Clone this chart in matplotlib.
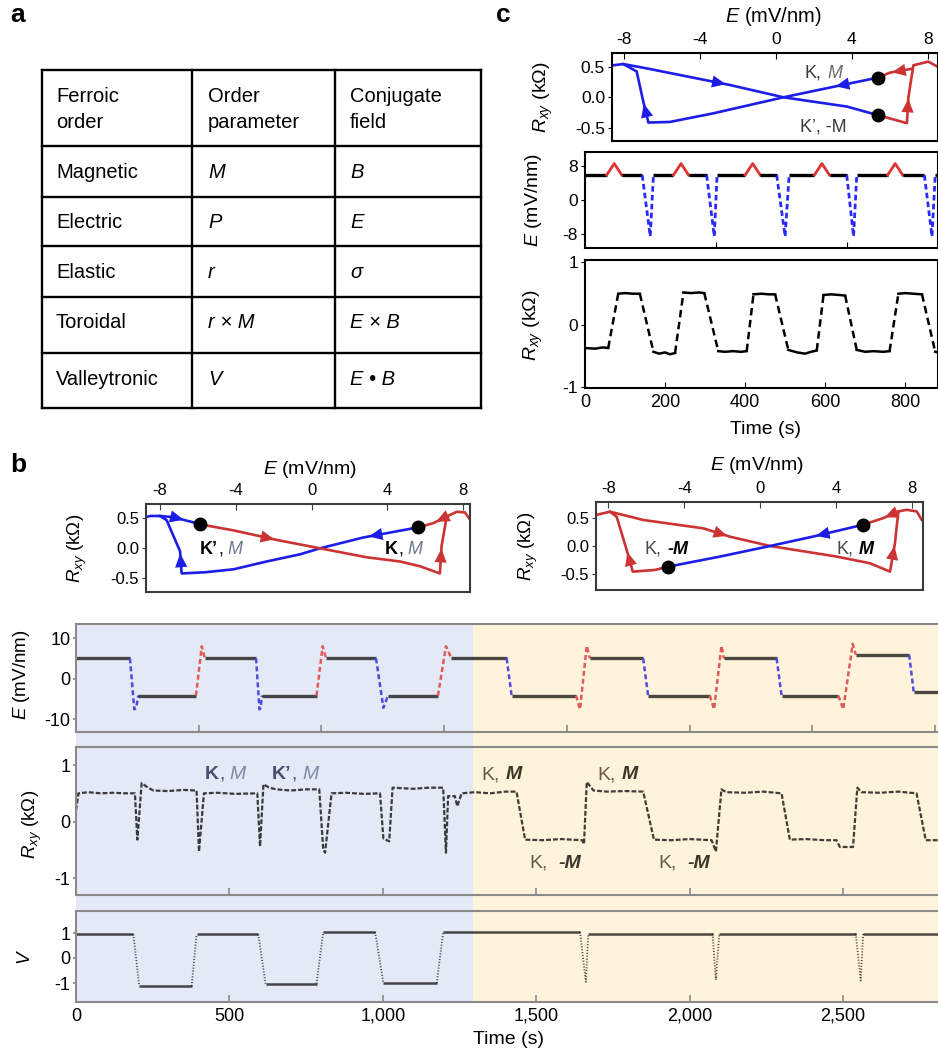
import matplotlib
matplotlib.use("Agg")
import matplotlib.pyplot as plt
import matplotlib.transforms as mtransforms
from matplotlib.patches import Rectangle
from matplotlib.ticker import FuncFormatter, FormatStrFormatter

plt.rcParams.update({
    'font.family': ['Liberation Sans', 'DejaVu Sans'],
    'mathtext.fontset': 'custom',
    'mathtext.rm': 'Liberation Sans',
    'mathtext.it': 'Liberation Sans:italic',
    'mathtext.bf': 'Liberation Sans:bold',
    'axes.unicode_minus': False,
})

# ======================= DATA =======================
# panel a table
table_header = [["Ferroic", "order"], ["Order", "parameter"], ["Conjugate", "field"]]
table_order = ["Magnetic", "Electric", "Elastic", "Toroidal", "Valleytronic"]
table_param = ["M", "P", "r", "r × M", "V"]
table_field = ["B", "E", "σ", "E × B", "E • B"]

# panel b, left hysteresis (E in mV/nm, Rxy in kOhm)
b1_blue_E = [5.64, 2.73, 0.45, -0.6, -2.37, -4.1, -5.6, -6.86, -6.94, -7.65, -8.0, -8.53, -8.74]
b1_blue_R = [0.35, 0.18, 0.0, -0.1, -0.22, -0.35, -0.40, -0.42, -0.05, 0.47, 0.54, 0.54, 0.52]
b1_blue2_E = [-8.0, -7.3, -6.2, -5.89]
b1_blue2_R = [0.54, 0.52, 0.43, 0.40]
b1_red_E = [-5.89, -4.13, -1.84, 0.45, 2.91, 4.67, 5.73, 6.78, 6.87, 7.14, 7.67, 8.1, 8.37]
b1_red_R = [0.40, 0.30, 0.14, 0.0, -0.15, -0.22, -0.30, -0.42, 0.04, 0.53, 0.61, 0.60, 0.48]
b1_red2_E = [7.14, 6.43, 5.64]
b1_red2_R = [0.53, 0.42, 0.35]
b1_dot_E = [-5.89, 5.64]
b1_dot_R = [0.40, 0.35]

# panel b, right hysteresis
b2_red_top_E = [-8.65, -7.91, -6.15, -2.99, -1.58, 0.53, 4.05, 5.8, 6.86, 7.12, 7.3, 7.74, 8.27, 8.53]
b2_red_top_R = [0.556, 0.616, 0.467, 0.317, 0.167, 0.0, -0.19, -0.31, -0.46, 0.05, 0.62, 0.65, 0.62, 0.47]
b2_red_left_E = [-4.83, -5.54, -6.71, -7.03, -7.56, -7.91]
b2_red_left_R = [-0.37, -0.43, -0.46, -0.072, 0.526, 0.616]
b2_red_right_E = [7.3, 6.5, 5.42]
b2_red_right_R = [0.62, 0.50, 0.38]
b2_blue_E = [5.42, 2.81, 0.53, -2.11, -4.83]
b2_blue_R = [0.38, 0.17, 0.0, -0.19, -0.37]
b2_dot_E = [-4.83, 5.42]
b2_dot_R = [-0.37, 0.38]

# panel c hysteresis
c_blue_main_E = [5.37, 3.02, 0.39, -3.3, -5.59, -6.73, -7.0, -7.35, -8.05, -8.61]
c_blue_main_R = [0.32, 0.17, 0.0, -0.26, -0.40, -0.41, -0.07, 0.42, 0.54, 0.52]
c_blue_top_E = [-8.05, -6.82, -2.43, 0.39, 3.73, 5.37]
c_blue_top_R = [0.54, 0.47, 0.2, 0.0, -0.15, -0.29]
c_red_E = [5.37, 6.9, 6.98, 7.24, 8.03, 8.5]
c_red_R = [-0.29, -0.42, 0.0, 0.52, 0.58, 0.5]
c_red2_E = [7.1, 6.0, 5.37]
c_red2_R = [0.46, 0.40, 0.32]
c_dot_E = [5.37, 5.37]
c_dot_R = [0.32, -0.29]

# panel b time traces
b_E_t = [0, 176, 190, 196, 203, 391, 410, 420, 587, 598, 602, 606, 784, 804, 815,
         978, 1002, 1017, 1180, 1206, 1224, 1404, 1420, 1630, 1643, 1665, 1675,
         1849, 1865, 2066, 2080, 2104, 2112, 2284, 2300, 2485, 2501, 2532, 2542,
         2716, 2731, 2810]
b_E_v = [5, 5, -7.6, -7.3, -4.2, -4.2, 8.0, 5, 5, -7.6, -7.3, -4.2, -4.2, 8.0, 5,
         5, -7.2, -4.2, -4.2, 8.0, 5, 5, -4.2, -4.2, -7.6, 8.1, 5,
         5, -4.2, -4.2, -7.6, 8.1, 5, 5, -4.2, -4.2, -7.6, 8.6, 5.9,
         5.9, -3.4, -3.4]

b_R_t = [0, 8, 40, 80, 120, 160, 192, 200, 214, 235, 252, 300, 350, 393, 401, 417, 460,
         520, 591, 600, 611, 630, 653, 700, 750, 793, 806, 812, 833, 880, 940, 991, 1002,
         1021, 1032, 1100, 1150, 1197, 1206, 1213, 1235, 1243, 1257, 1300, 1350, 1400,
         1436, 1464, 1520, 1580, 1650, 1656, 1665, 1687, 1730, 1790, 1849, 1884, 1940,
         2000, 2072, 2086, 2104, 2120, 2180, 2240, 2300, 2327, 2380, 2440, 2479, 2490,
         2533, 2547, 2560, 2620, 2680, 2740, 2770, 2810]
b_R_v = [0.2, 0.5, 0.52, 0.5, 0.51, 0.5, 0.5, -0.32, 0.68, 0.6, 0.55, 0.54, 0.56, 0.55,
         -0.53, 0.5, 0.51, 0.49, 0.5, -0.44, 0.66, 0.6, 0.57, 0.55, 0.57, 0.57, -0.5,
         -0.55, 0.5, 0.51, 0.49, 0.5, -0.3, -0.35, 0.6, 0.58, 0.6, 0.6, -0.55, 0.45,
         0.45, 0.27, 0.5, 0.52, 0.5, 0.53, 0.53, -0.32, -0.33, -0.31, -0.33, -0.40, 0.70,
         0.55, 0.53, 0.54, 0.53, -0.32, -0.33, -0.31, -0.33, -0.53, 0.57, 0.52, 0.51,
         0.53, 0.50, -0.32, -0.31, -0.33, -0.33, -0.45, -0.45, 0.60, 0.52, 0.51, 0.53,
         0.50, -0.33, -0.33]

b_V_t = [0, 187, 206, 377, 393, 594, 618, 784, 806, 975, 1002, 1176, 1197,
         1643, 1662, 1670, 2075, 2086, 2097, 2542, 2558, 2566, 2810]
b_V_v = [0.95, 0.95, -1.12, -1.12, 0.95, 0.95, -1.03, -1.03, 1.04, 1.04, -1.0, -1.0, 1.04,
         1.04, -0.95, 0.97, 0.97, -0.87, 0.97, 0.97, -0.9, 0.97, 0.97]

b_switch_time = 1294
b_time_max = 2810

# panel c time traces
c_E_t = [0, 54, 73, 92, 143, 163, 171, 221, 240, 259, 304, 323, 330, 400, 419, 438,
         479, 500, 510, 573, 592, 611, 654, 671, 679, 756, 775, 794, 848, 867, 875, 882]
c_E_v = [5.8, 5.8, 8.5, 5.8, 5.8, -8.5, 5.8, 5.8, 8.5, 5.8, 5.8, -8.5, 5.8, 5.8, 8.5, 5.8,
         5.8, -8.5, 5.8, 5.8, 8.5, 5.8, 5.8, -8.5, 5.8, 5.8, 8.5, 5.8, 5.8, -8.5, 5.8, 5.8]
c_R_t = [0, 25, 45, 58, 83, 100, 120, 137, 171, 185, 200, 212, 225, 246, 265, 285, 298,
         333, 350, 370, 390, 404, 421, 440, 460, 475, 508, 530, 550, 565, 579, 596, 615,
         635, 650, 679, 700, 720, 745, 761, 783, 800, 820, 842, 875, 882]
c_R_v = [-0.37, -0.38, -0.36, -0.37, 0.50, 0.51, 0.50, 0.50, -0.43, -0.46, -0.44, -0.47,
         -0.45, 0.52, 0.51, 0.52, 0.51, -0.42, -0.43, -0.42, -0.43, -0.42, 0.49, 0.50,
         0.49, 0.49, -0.40, -0.44, -0.46, -0.43, -0.41, 0.48, 0.49, 0.48, 0.47, -0.40,
         -0.43, -0.42, -0.43, -0.42, 0.50, 0.51, 0.50, 0.49, -0.43, -0.44]
c_time_max = 882

for a_, b_ in [(b_E_t, b_E_v), (b_R_t, b_R_v), (b_V_t, b_V_v), (c_E_t, c_E_v), (c_R_t, c_R_v)]:
    assert len(a_) == len(b_)

# ======================= STYLE =======================
W, H = 938, 1057
HBLUE = '#1d1de8'
HRED = '#cc3333'
BG_BLUE = '#e4e9f6'
BG_YELLOW = '#fff3db'
SPINE_GRAY = '#8a8a8a'

fig = plt.figure(figsize=(W / 100, H / 100), dpi=100)


def add_ax(x0, y0, x1, y1):
    return fig.add_axes([x0 / W, 1 - y1 / H, (x1 - x0) / W, (y1 - y0) / H])


def ftext(px, py, s, **kw):
    return fig.text(px / W, 1 - py / H, s, **kw)


def rich(ax, x, y, parts, fs):
    t = None
    for s, kw in parts:
        kw = dict(kw)
        gap = kw.pop('gap', 0)
        if t is None:
            t = ax.text(x, y, s, fontsize=fs, va='baseline', ha='left', **kw)
        else:
            t = ax.annotate(s, xy=(1, 0), xycoords=t, xytext=(gap, 0),
                            textcoords='offset points', va='bottom', ha='left',
                            fontsize=fs, **kw)


def arrow_on(ax, xs, ys, s, color):
    i = int(s)
    f = s - i
    x0, y0, x1, y1 = xs[i], ys[i], xs[i + 1], ys[i + 1]
    xt, yt = x0 + f * (x1 - x0), y0 + f * (y1 - y0)
    xb, yb = xt - 0.03 * (x1 - x0), yt - 0.03 * (y1 - y0)
    ax.annotate('', xy=(xt, yt), xytext=(xb, yb),
                arrowprops=dict(arrowstyle='-|>,head_length=0.9,head_width=0.4',
                                color=color, lw=0, shrinkA=0, shrinkB=0,
                                mutation_scale=11))


def split_segments(t, v, tol):
    segs = []
    kind_cur = None
    ts, vs = [t[0]], [v[0]]
    for k in range(len(t) - 1):
        kind = 'flat' if abs(v[k + 1] - v[k]) <= tol else 'move'
        if kind_cur is None:
            kind_cur = kind
        if kind != kind_cur:
            segs.append((kind_cur, ts, vs))
            ts, vs = [t[k]], [v[k]]
            kind_cur = kind
        ts.append(t[k + 1])
        vs.append(v[k + 1])
    segs.append((kind_cur, ts, vs))
    return segs


def draw_switch(ax, t, v, tol, flat_kw, up_kw, down_kw):
    for kind, ts, vs in split_segments(t, v, tol):
        if kind == 'flat':
            ax.plot(ts, vs, **flat_kw)
        else:
            up = max(vs) > max(vs[0], vs[-1])
            ax.plot(ts, vs, **(up_kw if up else down_kw))


def style_hyst(ax, xlim, ylim, spine_color, fs):
    ax.set_xlim(*xlim)
    ax.set_ylim(*ylim)
    ax.xaxis.tick_top()
    ax.set_xticks([-8, -4, 0, 4, 8])
    ax.set_yticks([-0.5, 0, 0.5])
    ax.yaxis.set_major_formatter(FormatStrFormatter('%.1f'))
    for sp in ax.spines.values():
        sp.set_color(spine_color)
        sp.set_linewidth(1.5)
    ax.tick_params(axis='x', direction='in', length=4, labelsize=fs, pad=4,
                   top=True, bottom=False, color=spine_color)
    ax.tick_params(axis='y', direction='out', length=3, labelsize=fs, pad=2,
                   color=spine_color)


# ======================= PANEL LETTERS =======================
ftext(10, 22, 'a', fontsize=19, fontweight='bold', va='baseline')
ftext(10, 472, 'b', fontsize=19, fontweight='bold', va='baseline')
ftext(496, 22, 'c', fontsize=19, fontweight='bold', va='baseline')

# ======================= PANEL a: table =======================
axT = fig.add_axes([0, 0, 1, 1], zorder=-5)
axT.set_xlim(0, W)
axT.set_ylim(H, 0)
axT.axis('off')
row_lines = [70, 146, 197, 246, 297, 353, 408]
col_lines = [42, 192, 335, 481]
for yy in row_lines:
    axT.plot([col_lines[0], col_lines[-1]], [yy, yy], color='black', lw=1.7,
             solid_capstyle='projecting')
for xx in col_lines:
    axT.plot([xx, xx], [row_lines[0], row_lines[-1]], color='black', lw=1.7,
             solid_capstyle='projecting')
col_x = [56, 208, 350]
TFS = 14.5
for ci, (l1, l2) in enumerate(table_header):
    axT.text(col_x[ci], 102, l1, fontsize=TFS, va='baseline', ha='left')
    axT.text(col_x[ci], 128, l2, fontsize=TFS, va='baseline', ha='left')
row_base = [178, 228, 278, 328, 385]
for ri in range(len(table_order)):
    axT.text(col_x[0], row_base[ri], table_order[ri], fontsize=TFS, va='baseline')
    axT.text(col_x[1], row_base[ri], table_param[ri], fontsize=TFS, va='baseline',
             style='italic')
    axT.text(col_x[2], row_base[ri], table_field[ri], fontsize=TFS, va='baseline',
             style='italic')

# ======================= PANEL b: hysteresis =======================
hb1 = add_ax(146, 504, 470, 592)
style_hyst(hb1, (-8.74, 8.37), (-0.73, 0.74), '#3a3a3a', 12)
for xs, ys, col in [(b1_blue_E, b1_blue_R, HBLUE), (b1_blue2_E, b1_blue2_R, HBLUE),
                    (b1_red_E, b1_red_R, HRED), (b1_red2_E, b1_red2_R, HRED)]:
    hb1.plot(xs, ys, color=col, lw=1.9, solid_joinstyle='round')
arrow_on(hb1, b1_blue_E, b1_blue_R, 0.9, HBLUE)
arrow_on(hb1, b1_blue_E, b1_blue_R, 7.9, HBLUE)
arrow_on(hb1, b1_blue2_E, b1_blue2_R, 1.5, HBLUE)
arrow_on(hb1, b1_red_E, b1_red_R, 1.95, HRED)
arrow_on(hb1, b1_red_E, b1_red_R, 7.9, HRED)
arrow_on(hb1, b1_red2_E, b1_red2_R, 0.8, HRED)
hb1.plot(b1_dot_E, b1_dot_R, 'o', color='black', ms=9, zorder=5)
rich(hb1, -5.89, -0.1, [("K’", dict(fontweight='bold', color='black')),
                        (",", dict(color='black')),
                        ("M", dict(style='italic', color='#6f7890', gap=3))], 13)
rich(hb1, 3.88, -0.1, [("K", dict(fontweight='bold', color='black')),
                       (",", dict(color='black')),
                       ("M", dict(style='italic', color='#6f7890', gap=3))], 13)

hb2 = add_ax(596, 502, 923, 590)
style_hyst(hb2, (-8.65, 8.6), (-0.79, 0.79), '#3a3a3a', 12)
for xs, ys, col in [(b2_red_top_E, b2_red_top_R, HRED), (b2_red_left_E, b2_red_left_R, HRED),
                    (b2_red_right_E, b2_red_right_R, HRED), (b2_blue_E, b2_blue_R, HBLUE)]:
    hb2.plot(xs, ys, color=col, lw=1.9, solid_joinstyle='round')
arrow_on(hb2, b2_red_top_E, b2_red_top_R, 3.9, HRED)
arrow_on(hb2, b2_red_top_E, b2_red_top_R, 8.9, HRED)
arrow_on(hb2, b2_red_left_E, b2_red_left_R, 2.9, HRED)
arrow_on(hb2, b2_red_right_E, b2_red_right_R, 0.9, HRED)
arrow_on(hb2, b2_blue_E, b2_blue_R, 0.95, HBLUE)
hb2.plot(b2_dot_E, b2_dot_R, 'o', color='black', ms=9, zorder=5)
rich(hb2, -6.07, -0.14, [("K,", dict(color='#4a4a4a')),
                         ("-M", dict(style='italic', fontweight='bold', color='black', gap=4))], 13)
rich(hb2, 4.05, -0.14, [("K,", dict(color='#4a4a4a')),
                        ("M", dict(style='italic', fontweight='bold', color='black', gap=4))], 13)

for ax_, (lx, ly), (yx, yy) in [(hb1, (310, 470), (77, 548)), (hb2, (757, 466), (528, 546))]:
    ftext(lx, ly, r'$E$ (mV/nm)', fontsize=14, ha='center', va='center')
    ftext(yx, yy, r'$R_{xy}$ (kΩ)', fontsize=13.5, ha='center', va='center', rotation=90)

# ======================= PANEL b: time traces =======================
axE = add_ax(76, 624, W, 732)
axR = add_ax(76, 747, W, 895)
axV = add_ax(76, 911, W, 1002)

trans = mtransforms.blended_transform_factory(axV.transData, fig.transFigure)
ybot, ytop = 1 - 1002 / H, 1 - 623 / H
fig.add_artist(Rectangle((0, ybot), b_switch_time, ytop - ybot, transform=trans,
                         facecolor=BG_BLUE, edgecolor='none', zorder=-1))
fig.add_artist(Rectangle((b_switch_time, ybot), 2 * b_time_max, ytop - ybot,
                         transform=trans, facecolor=BG_YELLOW, edgecolor='none', zorder=-1))

for ax_ in (axE, axR, axV):
    ax_.set_facecolor('none')
    ax_.set_xlim(0, b_time_max)
    ax_.spines['right'].set_visible(False)
    for side in ('top', 'bottom', 'left'):
        ax_.spines[side].set_color(SPINE_GRAY)
        ax_.spines[side].set_linewidth(1.5)
    ax_.tick_params(axis='x', direction='in', length=5, color=SPINE_GRAY, labelbottom=False,
                    width=1.2)
    ax_.tick_params(axis='y', direction='out', length=2, color=SPINE_GRAY, labelsize=13,
                    pad=2, width=1.2)

axE.set_ylim(-13.2, 13.5)
axE.set_yticks([-10, 0, 10])
axE.set_xticks([400, 800, 1200, 1600, 2000, 2400, 2800])
draw_switch(axE, b_E_t, b_E_v, 0,
            dict(color='black', alpha=0.7, lw=2.4, solid_capstyle='butt'),
            dict(color='#e05a5a', lw=1.8, linestyle=(0, (2, 1.2))),
            dict(color='#4d4de0', lw=1.8, linestyle=(0, (2, 1.2))))

axR.set_ylim(-1.3, 1.32)
axR.set_yticks([-1, 0, 1])
axR.set_xticks([500, 1000, 1500, 2000, 2500])
axR.plot(b_R_t, b_R_v, color='black', alpha=0.75, lw=1.6, linestyle=(0, (2.2, 0.9)))

axV.set_ylim(-1.76, 1.88)
axV.set_yticks([-1, 0, 1])
axV.set_xticks([0, 500, 1000, 1500, 2000, 2500])
axV.tick_params(axis='x', labelbottom=True, labelsize=13, pad=4)
axV.xaxis.set_major_formatter(FuncFormatter(lambda x, p: f'{x:,.0f}'))
draw_switch(axV, b_V_t, b_V_v, 0,
            dict(color='black', alpha=0.7, lw=1.8, solid_capstyle='butt'),
            dict(color='black', alpha=0.7, lw=1.3, linestyle=(0, (0.6, 1.0))),
            dict(color='black', alpha=0.7, lw=1.3, linestyle=(0, (0.6, 1.0))))

ftext(22, 675, r'$E$ (mV/nm)', fontsize=13.5, ha='center', va='center', rotation=90)
ftext(32, 824, r'$R_{xy}$ (kΩ)', fontsize=13.5, ha='center', va='center', rotation=90)
ftext(26, 957, r'$V$', fontsize=13.5, ha='center', va='center', rotation=90)
ftext(508, 1040, 'Time (s)', fontsize=14, ha='center', va='center')

KB = '#46516e'
MB = '#7d88a3'
rich(axR, 420, 0.75, [("K", dict(fontweight='bold', color=KB)),
                      (",", dict(color=KB)),
                      ("M", dict(style='italic', color=MB, gap=4))], 14)
rich(axR, 639, 0.75, [("K’", dict(fontweight='bold', color=KB)),
                      (",", dict(color=KB)),
                      ("M", dict(style='italic', color=MB, gap=4))], 14)
KY = '#655c4b'
MY = '#3d372b'
for tx in (1323, 1701):
    rich(axR, tx, 0.75, [("K,", dict(color=KY)),
                         ("M", dict(style='italic', fontweight='bold', color=MY, gap=4))], 14)
for tx in (1477, 1897):
    rich(axR, tx, -0.82, [("K,", dict(color=KY)),
                          ("-M", dict(style='italic', fontweight='bold', color=MY, gap=8))], 14)

# ======================= PANEL c =======================
hc = add_ax(612, 53, W, 141)
style_hyst(hc, (-8.65, 8.54), (-0.71, 0.72), 'black', 12.5)
for xs, ys, col in [(c_blue_main_E, c_blue_main_R, HBLUE), (c_blue_top_E, c_blue_top_R, HBLUE),
                    (c_red_E, c_red_R, HRED), (c_red2_E, c_red2_R, HRED)]:
    hc.plot(xs, ys, color=col, lw=1.9, solid_joinstyle='round')
arrow_on(hc, c_blue_main_E, c_blue_main_R, 0.95, HBLUE)
arrow_on(hc, c_blue_main_E, c_blue_main_R, 5.9, HBLUE)
arrow_on(hc, c_blue_top_E, c_blue_top_R, 1.95, HBLUE)
arrow_on(hc, c_red_E, c_red_R, 1.95, HRED)
arrow_on(hc, c_red2_E, c_red2_R, 0.9, HRED)
hc.plot(c_dot_E, c_dot_R, 'o', color='black', ms=9, zorder=5)
rich(hc, 1.52, 0.32, [("K,", dict(color='#3a3a3a')),
                      ("M", dict(style='italic', color='#6a6a6a', gap=4))], 13)
rich(hc, 1.26, -0.56, [("K’, -M", dict(color='#3a3a3a'))], 13)
ftext(773, 16, r'$E$ (mV/nm)', fontsize=14.5, ha='center', va='center')
ftext(543, 97, r'$R_{xy}$ (kΩ)', fontsize=14, ha='center', va='center', rotation=90)

cE = add_ax(585, 152, W, 248)
cR = add_ax(585, 260, W, 388)
for ax_ in (cE, cR):
    ax_.set_xlim(0, c_time_max)
    for sp in ax_.spines.values():
        sp.set_color('black')
        sp.set_linewidth(1.5)
    ax_.tick_params(axis='x', direction='in', length=4, labelbottom=False)
    ax_.tick_params(axis='y', direction='out', length=3, labelsize=12.5, pad=2)
cE.set_ylim(-11.2, 11.2)
cE.set_yticks([-8, 0, 8])
cE.set_xticks([327, 655])
draw_switch(cE, c_E_t, c_E_v, 0,
            dict(color='black', lw=2.4, solid_capstyle='butt'),
            dict(color='#dd3333', lw=2.0),
            dict(color='#2a2aff', lw=2.0, linestyle=(0, (2, 1.2))))

cR.set_ylim(-1.01, 1.04)
cR.set_yticks([-1, 0, 1])
cR.set_xticks([0, 200, 400, 600, 800])
cR.tick_params(axis='x', labelbottom=True, labelsize=13, pad=4)
draw_switch(cR, c_R_t, c_R_v, 0.06,
            dict(color='black', lw=1.8),
            dict(color='black', lw=1.8, linestyle=(0, (3, 1.8))),
            dict(color='black', lw=1.8, linestyle=(0, (3, 1.8))))
ftext(533, 200, r'$E$ (mV/nm)', fontsize=14, ha='center', va='center', rotation=90)
ftext(533, 325, r'$R_{xy}$ (kΩ)', fontsize=14, ha='center', va='center', rotation=90)
ftext(765, 430, 'Time (s)', fontsize=14, ha='center', va='center')

fig.savefig('out.png', dpi=100)
